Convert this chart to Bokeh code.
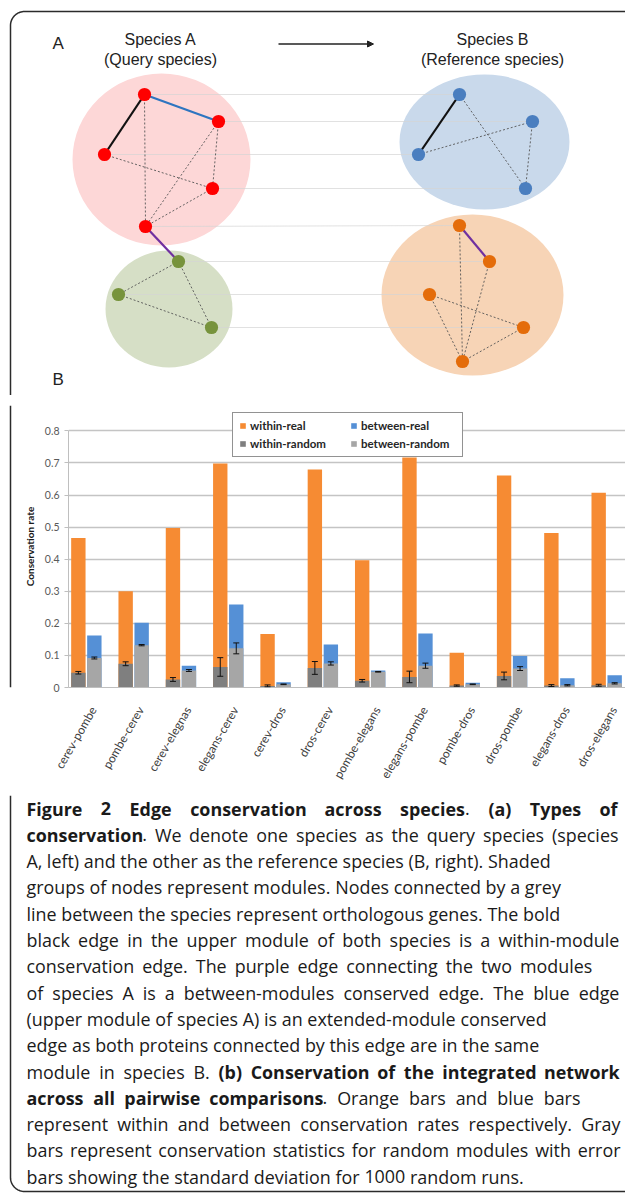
import numpy as np
from bokeh.plotting import figure
from bokeh.models import (Range1d, ColumnDataSource, Whisker, TeeHead, Legend, LegendItem,
                          FixedTicker, NumeralTickFormatter, Arrow, NormalHead)
from bokeh.layouts import column, row
from bokeh.core.properties import value
from bokeh.embed import file_html
from bokeh.resources import INLINE

# ---------------- chart data (panel B) ----------------
categories = ["cerev-pombe", "pombe-cerev", "cerev-elegnas", "elegans-cerev", "cerev-dros",
              "dros-cerev", "pombe-elegans", "elegans-pombe", "pombe-dros", "dros-pombe",
              "elegans-dros", "dros-elegans"]
within_real = [0.466, 0.300, 0.497, 0.698, 0.167, 0.680, 0.397, 0.717, 0.108, 0.661, 0.482, 0.607]
within_random = [0.046, 0.074, 0.025, 0.064, 0.005, 0.061, 0.021, 0.033, 0.006, 0.036, 0.006, 0.007]
within_random_sd = [0.004, 0.006, 0.006, 0.029, 0.003, 0.020, 0.004, 0.018, 0.002, 0.012, 0.003, 0.003]
between_real = [0.162, 0.202, 0.068, 0.259, 0.016, 0.134, 0.053, 0.168, 0.015, 0.098, 0.029, 0.038]
between_random = [0.092, 0.132, 0.053, 0.122, 0.010, 0.075, 0.049, 0.068, 0.010, 0.059, 0.007, 0.013]
between_random_sd = [0.003, 0.002, 0.003, 0.017, 0.001, 0.005, 0.001, 0.008, 0.001, 0.006, 0.002, 0.002]
y_ticks = [0, 0.1, 0.2, 0.3, 0.4, 0.5, 0.6, 0.7, 0.8]
series_labels = ["within-real", "within-random", "between-real", "between-random"]

# ---------------- schematic (panel A) ----------------
modules = {  # name: (cx, cy, w, h, colour)
    "A_up": (161, 159, 178, 172, "#fdd7d7"),
    "B_up": (484, 141.5, 170, 135, "#c9d9eb"),
    "A_lo": (168.5, 308.5, 127, 117, "#d6dfc6"),
    "B_lo": (472, 294.5, 182, 161, "#f7d4b6"),
}
nodes = {
    "a1": (144, 94), "a2": (218, 121), "a3": (104, 154), "a4": (212, 188), "a5": (145, 226),
    "g1": (178, 261), "g2": (118, 294), "g3": (211, 327),
    "b1": (459, 94), "b2": (532, 121), "b3": (418, 154), "b4": (525, 188),
    "o1": (459, 225), "o2": (489, 261), "o3": (429, 294), "o4": (523, 327), "o5": (462, 361),
}
node_colour = {"a": "#ff0000", "g": "#77933c", "b": "#4a7ebf", "o": "#e46c0a"}
orthologs = [("a1", "b1"), ("a2", "b2"), ("a3", "b3"), ("a4", "b4"), ("a5", "o1"),
             ("g1", "o2"), ("g2", "o3"), ("g3", "o4")]
dotted_edges = [("a1", "a5"), ("a3", "a4"), ("a2", "a4"), ("a2", "a5"), ("a4", "a5"),
                ("g1", "g2"), ("g2", "g3"), ("g1", "g3"),
                ("b1", "b4"), ("b3", "b2"), ("b2", "b4"),
                ("o1", "o5"), ("o2", "o5"), ("o3", "o4"), ("o3", "o5"), ("o4", "o5")]
black_edges = [("a1", "a3"), ("b1", "b3")]
blue_edges = [("a1", "a2")]
purple_edges = [("a5", "g1"), ("o1", "o2")]

caption_lines = [
    [("Figure 2 Edge conservation across species", True), (". ", False), ("(a) Types of", True)],
    [("conservation", True), (". We denote one species as the query species (species", False)],
    [("A, left) and the other as the reference species (B, right). Shaded", False)],
    [("groups of nodes represent modules. Nodes connected by a grey", False)],
    [("line between the species represent orthologous genes. The bold", False)],
    [("black edge in the upper module of both species is a within-module", False)],
    [("conservation edge. The purple edge connecting the two modules", False)],
    [("of species A is a between-modules conserved edge. The blue edge", False)],
    [("(upper module of species A) is an extended-module conserved", False)],
    [("edge as both proteins connected by this edge are in the same", False)],
    [("module in species B. ", False), ("(b) Conservation of the integrated network", True)],
    [("across all pairwise comparisons", True), (". Orange bars and blue bars", False)],
    [("represent within and between conservation rates respectively. Gray", False)],
    [("bars represent conservation statistics for random modules with error", False)],
    [("bars showing the standard deviation for 1000 random runs.", False)],
]
# right edge of each caption line in the reference (None = natural, ragged)
caption_line_end = [617, 618, None, None, None, 619, 592, 619, None, None, 618, 580, 620, 620, None]

W = 625
BORDER = "#2b2b2b"


def blank(width, height, xr, yr):
    p = figure(width=width, height=height, x_range=Range1d(*xr), y_range=Range1d(*yr),
               output_backend="svg", toolbar_location=None, min_border=0,
               x_axis_type=None, y_axis_type=None, outline_line_color=None)
    return p


# ---------- top schematic ----------
top = blank(W, 395, (0, 625), (395, 0))
R = 14
t = np.linspace(0, np.pi / 2, 20)
bx = [10, 10] + list(10 + R - R * np.cos(t)) + [640]
by = [395, 11 + R] + list(11 + R - R * np.sin(t)) + [11]
top.line(bx, by, line_color=BORDER, line_width=1.5)

for cx, cy, w, h, c in modules.values():
    top.ellipse(x=cx, y=cy, width=w, height=h, fill_color=c, line_color=None)

top.segment(x0=[nodes[a][0] for a, b in orthologs], y0=[nodes[a][1] for a, b in orthologs],
            x1=[nodes[b][0] for a, b in orthologs], y1=[nodes[b][1] for a, b in orthologs],
            line_color="#d4d4d4", line_width=1, line_alpha=0.7)


def edges(lst, **kw):
    top.segment(x0=[nodes[a][0] for a, b in lst], y0=[nodes[a][1] for a, b in lst],
                x1=[nodes[b][0] for a, b in lst], y1=[nodes[b][1] for a, b in lst], **kw)


edges(dotted_edges, line_color="#555555", line_width=0.9, line_dash="2 2")
edges(black_edges, line_color="#111111", line_width=2.2)
edges(blue_edges, line_color="#2e75c0", line_width=2.2)
edges(purple_edges, line_color="#7030a0", line_width=2.2)

top.circle(x=[v[0] for v in nodes.values()], y=[v[1] for v in nodes.values()], radius=6.6,
           fill_color=[node_colour[k[0]] for k in nodes], line_color=None)

lab = dict(text_font=value("Liberation Sans"), text_color="#222222", text_baseline="alphabetic")
top.text(x=[52], y=[42.5], text=["A"], text_font_size="17px", text_align="left", **lab)
top.text(x=[52], y=[378.5], text=["B"], text_font_size="17px", text_align="left", **lab)
top.text(x=[160, 160, 492, 492], y=[38.5, 58.5, 38.5, 58.5],
         text=["Species A", "(Query species)", "Species B", "(Reference species)"],
         text_font_size="16px", text_align="center", **lab)
top.add_layout(Arrow(end=NormalHead(size=6, fill_color="#222222", line_color="#222222"),
                     x_start=278, y_start=43.5, x_end=373, y_end=43.5,
                     line_color="#222222", line_width=1.3))

# ---------- chart ----------
strip = blank(14, 400, (0, 14), (795, 395))
strip.line([10, 10], [395, 795], line_color=BORDER, line_width=1.5)

idx = list(range(len(categories)))
OFF, BW = 0.169, 0.304
xl = [i - OFF for i in idx]
xr = [i + OFF for i in idx]
label_ticks = [i + 0.148 for i in idx]

chart = figure(width=611, height=400, x_range=Range1d(-0.3774, 11.398), y_range=Range1d(0, 0.8792),
               output_backend="svg", toolbar_location=None, min_border_left=54, min_border_right=0,
               min_border_top=10, min_border_bottom=108, outline_line_color=None)
r1 = chart.vbar(x=xl, top=within_real, width=BW, fill_color="#f68b33", line_color=None)
r2 = chart.vbar(x=xl, top=within_random, width=BW, fill_color="#7f7f7f", line_color=None)
r3 = chart.vbar(x=xr, top=between_real, width=BW, fill_color="#5590d6", line_color=None)
r4 = chart.vbar(x=xr, top=between_random, width=BW, fill_color="#a6a6a6", line_color=None)

for xs, m, s in ((xl, within_random, within_random_sd), (xr, between_random, between_random_sd)):
    src = ColumnDataSource(dict(x=xs, lo=[a - b for a, b in zip(m, s)], hi=[a + b for a, b in zip(m, s)]))
    chart.add_layout(Whisker(base="x", lower="lo", upper="hi", source=src, dimension="height",
                             level="annotation", line_color="#111111", line_width=1,
                             upper_head=TeeHead(size=6, line_color="#111111", line_width=1),
                             lower_head=TeeHead(size=6, line_color="#111111", line_width=1)))

chart.xgrid.visible = False
chart.ygrid.ticker = FixedTicker(ticks=y_ticks)
chart.ygrid.grid_line_color = "#c4c4c4"
chart.ygrid.grid_line_width = 1.3

ya = chart.yaxis[0]
ya.ticker = FixedTicker(ticks=y_ticks)
ya.formatter = NumeralTickFormatter(format="0.[0]")
ya.bounds = (0, 0.8)
ya.axis_line_color = "#bfbfbf"
ya.major_tick_line_color = "#bfbfbf"
ya.major_tick_out = 4
ya.major_tick_in = 0
ya.minor_tick_line_color = None
ya.major_label_text_font = "Lato"
ya.major_label_text_font_size = "10.5px"
ya.major_label_text_color = "#595959"
ya.major_label_standoff = 5
ya.axis_label = "Conservation rate"
ya.axis_label_text_font = "Lato"
ya.axis_label_text_font_size = "10px"
ya.axis_label_text_font_style = "bold"
ya.axis_label_text_color = "#1a1a1a"
ya.axis_label_standoff = 6

xa = chart.xaxis[0]
xa.ticker = FixedTicker(ticks=label_ticks)
xa.major_label_overrides = {tk: c for tk, c in zip(label_ticks, categories)}
xa.major_label_orientation = np.pi / 3
xa.major_tick_line_color = None
xa.minor_tick_line_color = None
xa.axis_line_color = "#bfbfbf"
xa.major_label_text_font = "Lato"
xa.major_label_text_font_size = "12px"
xa.major_label_text_color = "#404040"
xa.major_label_standoff = 14

legend = Legend(items=[LegendItem(label=series_labels[0], renderers=[r1]),
                       LegendItem(label=series_labels[1], renderers=[r2]),
                       LegendItem(label=series_labels[2], renderers=[r3]),
                       LegendItem(label=series_labels[3], renderers=[r4])],
                location=(164, 230), orientation="vertical", nrows=2, margin=0,
                padding=6, spacing=5, glyph_width=7, glyph_height=7, label_standoff=4,
                label_width=95, label_text_font="Lato", label_text_font_style="bold",
                label_text_font_size="11.5px", label_text_color="#262626",
                border_line_color="#262626", border_line_width=1,
                background_fill_color="white", background_fill_alpha=1)
chart.add_layout(legend)

# ---------- caption ----------
cap = blank(W, 401, (0, 625), (1196, 795))
bx = [10, 10] + list(10 + R - R * np.cos(t)) + [640]
by = [795, 1191 - R] + list(1191 - R + R * np.sin(t)) + [1191]
cap.line(bx, by, line_color=BORDER, line_width=1.5)

REG = {' ': 532, '.': 545, ',': 502, '(': 608, ')': 608, '-': 659, 'A': 1296, 'B': 1327, 'G': 1491,
       'N': 1544, 'O': 1595, 'S': 1124, 'T': 1139, 'W': 1858, 'a': 1139, 'b': 1255, 'c': 975,
       'd': 1255, 'e': 1149, 'f': 694, 'g': 1122, 'h': 1257, 'i': 518, 'j': 518, 'k': 1075,
       'l': 518, 'm': 1905, 'n': 1257, 'o': 1237, 'p': 1255, 'q': 1255, 'r': 836, 's': 977,
       't': 723, 'u': 1257, 'v': 1026, 'w': 1593, 'x': 1073, 'y': 1028, 'z': 954}
BOLD = {' ': 532, '.': 586, '(': 694, ')': 694, '-': 659, 'C': 1305, 'E': 1147, 'F': 1124,
        'T': 1157, 'a': 1208, 'b': 1290, 'c': 1075, 'd': 1290, 'e': 1208, 'f': 795, 'g': 1143,
        'h': 1331, 'i': 621, 'k': 1249, 'l': 621, 'm': 1968, 'n': 1331, 'o': 1264, 'p': 1290,
        'r': 919, 's': 1016, 't': 856, 'u': 1331, 'v': 1149, 'w': 1696, 'y': 1157, 'x': 1200}
FS = 17.9


def tw(s, bold):
    d = BOLD if bold else REG
    return sum(d.get(ch, 1171 if ch.isdigit() else 1180) for ch in s) / 2048 * FS


def words_of(line):
    words, cur = [], []
    for txt, b in line:
        for ch in txt:
            if ch == " ":
                if cur:
                    words.append(cur)
                    cur = []
            elif cur and cur[-1][1] == b:
                cur[-1][0] += ch
            else:
                cur.append([ch, b])
    if cur:
        words.append(cur)
    return words


X0, Y0, DY = 26, 808, 26.3
SPACE = 532 / 2048 * FS
parts = {True: dict(x=[], y=[], text=[]), False: dict(x=[], y=[], text=[])}
for k, (line, end) in enumerate(zip(caption_lines, caption_line_end)):
    y = Y0 + DY * k
    words = words_of(line)
    widths = [sum(tw(s, b) for s, b in w) for w in words]
    gap = SPACE if end is None else (end - X0 - sum(widths)) / (len(words) - 1)
    x = X0
    for w, wd in zip(words, widths):
        xx = x
        for s, b in w:
            parts[b]["x"].append(xx)
            parts[b]["y"].append(y)
            parts[b]["text"].append(s)
            xx += tw(s, b)
        x += wd + gap

for b, d in parts.items():
    cap.text(x=d["x"], y=d["y"], text=d["text"], text_font=value("Open Sans"),
             text_font_size=value(f"{FS}px"), text_font_style="bold" if b else "normal",
             text_color="#1a1a1a", text_align="left", text_baseline="alphabetic")

layout = column(top, row(strip, chart), cap)
open("out.html", "w").write(file_html(layout, INLINE))
